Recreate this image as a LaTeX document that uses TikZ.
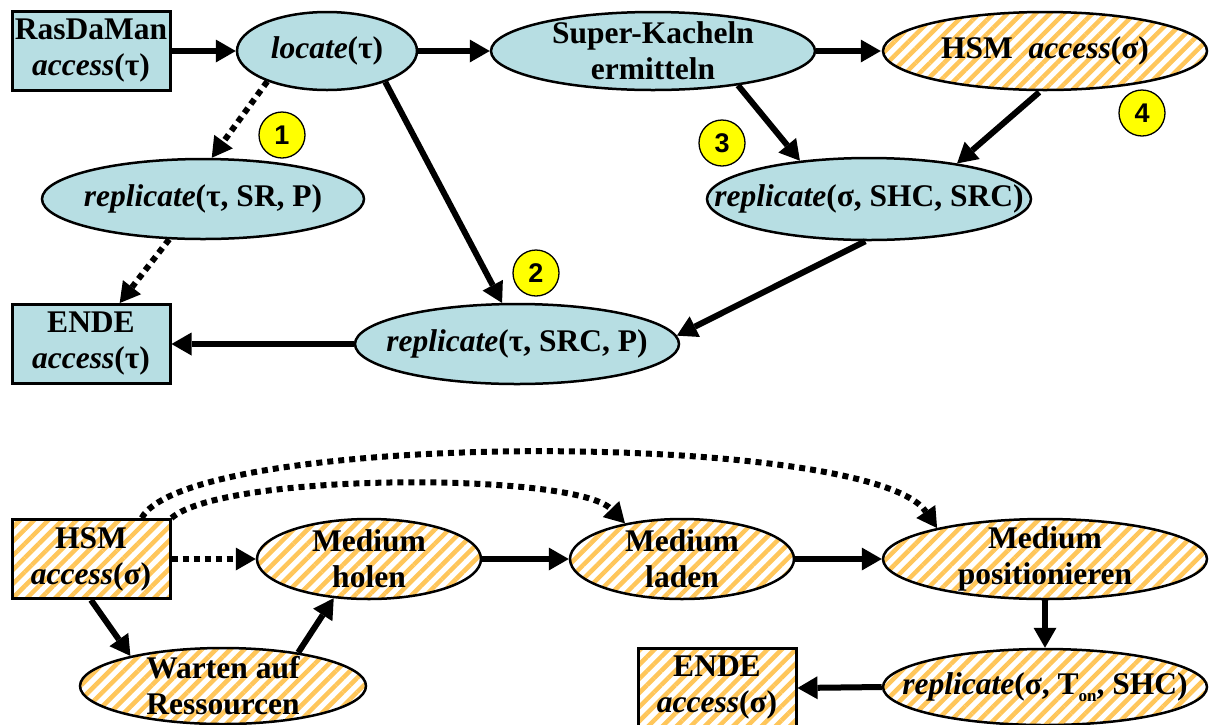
\documentclass[tikz,border=0pt]{standalone}
\usepackage{fontspec}
\setmainfont{Liberation Serif}
\newfontfamily\numfont{Liberation Sans}
\usetikzlibrary{shapes.geometric,arrows.meta,patterns.meta,calc}
\definecolor{tealfill}{RGB}{183,222,227}
\definecolor{hatchcol}{RGB}{255,198,90}
\definecolor{markfill}{RGB}{255,255,0}

\begin{document}
\begin{tikzpicture}[x=1pt,y=-1pt,
  every node/.style={font=\fontsize{31.5}{36}\selectfont\bfseries},
  txt/.style={align=center, inner sep=0pt},
  bluebox/.style={draw, line width=3pt, fill=tealfill, rectangle, inner sep=0pt},
  blueell/.style={draw, line width=2.5pt, fill=tealfill, ellipse, inner sep=0pt},
  hatched/.style={pattern={Lines[angle=45,distance=10pt,line width=4.5pt]}, pattern color=hatchcol},
  hatchbox/.style={draw, line width=3pt, hatched, rectangle, inner sep=0pt},
  hatchell/.style={draw, line width=2.5pt, hatched, ellipse, inner sep=0pt},
  marker/.style={circle, draw, line width=1.3pt, fill=markfill, minimum size=46pt, inner sep=0pt,
    font=\fontsize{27}{27}\selectfont\numfont\bfseries},
  flow/.style={line width=6pt, -{Triangle[length=20pt,width=23pt,line width=0pt]}},
  optflow/.style={flow, dash pattern=on 6pt off 5pt},
]
\useasboundingbox (0,0) rectangle (1210,724);

% ---------- upper chart: tile access ----------
\node[bluebox, minimum width=158pt, minimum height=79pt] (ras) at (91,51) {};
\node[txt] (ras-t) at (ras) {RasDaMan\\\textit{access}(τ)};

\node[blueell, minimum width=180pt, minimum height=78pt] (loc) at (327,51) {};
\node[txt] (loc-t) at (loc) {\textit{locate}(τ)};

\node[blueell, minimum width=324pt, minimum height=78pt] (sk) at (653,51) {};
\node[txt] (sk-t) at (sk) {Super-Kacheln\\ermitteln};

\node[hatchell, minimum width=324pt, minimum height=78pt] (hsm1) at (1045,51) {};
\node[txt] (hsm1-t) at (hsm1) {HSM\ \ \textit{access}(σ)};

\node[blueell, minimum width=322pt, minimum height=80pt] (repSR) at (203,199) {};
\node[txt] (repSR-t) at (repSR) {\textit{replicate}(τ, SR, P)};

\node[blueell, minimum width=324pt, minimum height=82pt] (repSHC) at (869,199) {};
\node[txt] (repSHC-t) at (repSHC) {\textit{replicate}(σ, SHC, SRC)};

\node[blueell, minimum width=324pt, minimum height=80pt] (repSRC) at (517,344) {};
\node[txt] (repSRC-t) at (repSRC) {\textit{replicate}(τ, SRC, P)};

\node[bluebox, minimum width=158pt, minimum height=79pt] (ende1) at (91,344) {};
\node[txt] (ende1-t) at (ende1) {ENDE\\\textit{access}(τ)};

\node[marker] (m1) at (282,135) {1};
\node[marker] (m2) at (536,273) {2};
\node[marker] (m3) at (722,143) {3};
\node[marker] (m4) at (1142,113) {4};

\draw[flow] (ras.east) -- (loc.west);
\draw[flow] (loc.east) -- (sk.west);
\draw[flow] (sk.east) -- (hsm1.west);
\draw[optflow] (loc.207) -- (repSR.78);
\draw[optflow] (repSR.230) -- (ende1.55);
\draw[flow] (loc.332) -- (repSRC.110);
\draw[flow] (sk.338) -- (repSHC.151);
\draw[flow] (hsm1.262) -- (repSHC.22);
\draw[flow] (repSHC.265) -- (repSRC.3);
\draw[flow] (repSRC.west) -- (ende1.east);

% ---------- lower chart: HSM access ----------
\node[hatchbox, minimum width=158pt, minimum height=79pt] (hsm2) at (91,559) {};
\node[txt] (hsm2-t) at (hsm2) {HSM\\\textit{access}(σ)};

\node[hatchell, minimum width=224pt, minimum height=80pt] (holen) at (369,559) {};
\node[txt] (holen-t) at (holen) {Medium\\holen};

\node[hatchell, minimum width=224pt, minimum height=80pt] (laden) at (682,559) {};
\node[txt] (laden-t) at (laden) {Medium\\laden};

\node[hatchell, minimum width=324pt, minimum height=80pt] (pos) at (1045,559) {};
\node[txt] (pos-t) at (pos) {Medium\\positionieren};

\node[hatchell, minimum width=286pt, minimum height=76pt] (warten) at (223,686) {};
\node[txt] (warten-t) at (warten) {Warten auf\\Ressourcen};

\node[hatchell, minimum width=324pt, minimum height=76pt] (rep2) at (1045,687) {};
\node[txt] (rep2-t) at (rep2) {\textit{replicate}(σ, T\raisebox{-7pt}{\fontsize{17}{17}\selectfont on}, SHC)};

\node[hatchbox, minimum width=158pt, minimum height=79pt] (ende2) at (717,688) {};
\node[txt] (ende2-t) at (ende2) {ENDE\\\textit{access}(σ)};

\draw[optflow] (hsm2.east) -- (holen.west);
\draw[flow] (holen.east) -- (laden.west);
\draw[flow] (laden.east) -- (pos.west);
\draw[flow] (pos.south) -- (rep2.north);
\draw[flow] (rep2.west) -- (ende2.east);
\draw[flow] (hsm2.south) -- (warten.162);
\draw[flow] (warten.24) -- (holen.228);
\draw[optflow] (hsm2.39) .. controls (190,430) and (870,430) .. (pos.164);
\draw[optflow] (hsm2.north east) .. controls (225,472) and (575,472) .. (laden.148);
\end{tikzpicture}
\end{document}
